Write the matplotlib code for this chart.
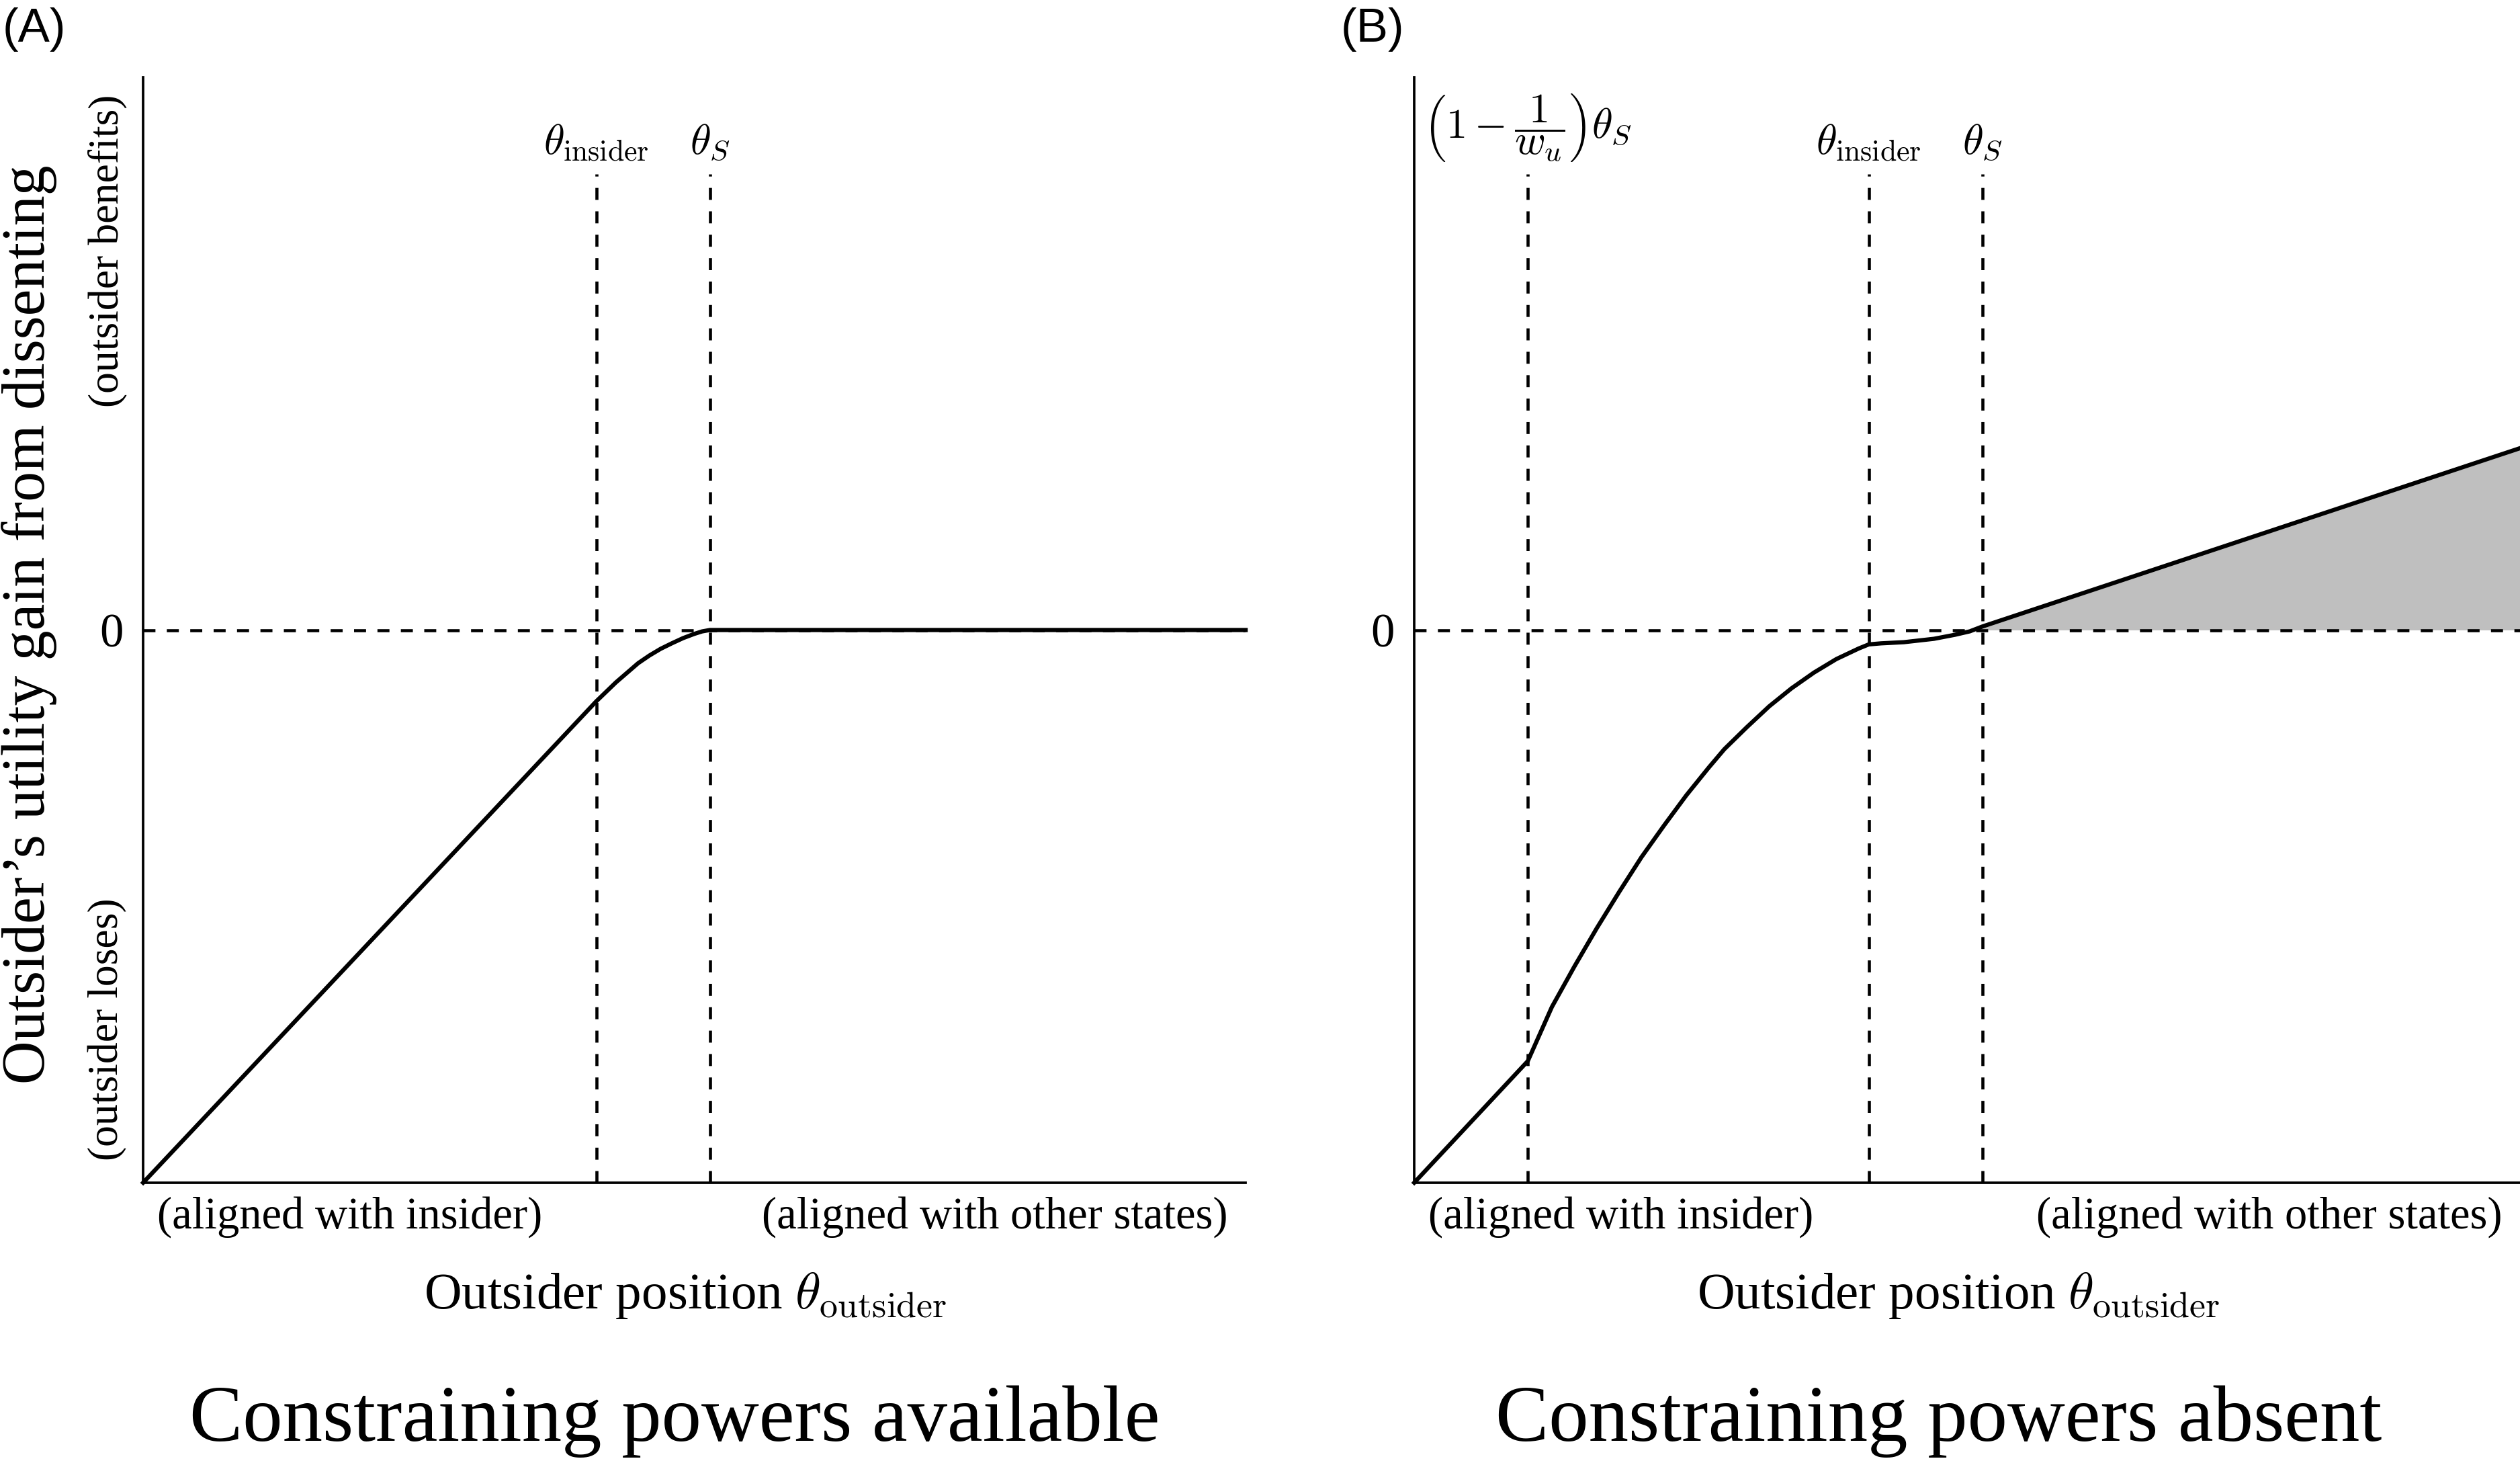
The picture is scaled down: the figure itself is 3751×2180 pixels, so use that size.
import matplotlib.pyplot as plt

plt.rcParams['font.family'] = 'Liberation Serif'
plt.rcParams['mathtext.fontset'] = 'cm'

# Panel A: constraining powers available (x = outsider position, y = utility gain)
a_x = [0.0, 0.411, 0.4288, 0.449, 0.4593, 0.4694, 0.4796, 0.4898, 0.4999, 0.507, 0.514, 1.0]
a_y = [-1.0, -0.129, -0.0948, -0.060, -0.046, -0.034, -0.024, -0.0146, -0.0070, -0.0025, 0.0, 0.0]

# Panel B: constraining powers absent
b_x = [0.0, 0.1027, 0.1245, 0.1448, 0.1651, 0.1853, 0.2055, 0.2258, 0.2461, 0.2663,
       0.2805, 0.3007, 0.3210, 0.3412, 0.3615, 0.3817, 0.4020, 0.4111, 0.4222, 0.4428,
       0.470, 0.489, 0.5024, 0.514, 1.0]
b_y = [-1.0, -0.780, -0.682, -0.609, -0.5395, -0.474, -0.411, -0.354, -0.299, -0.249,
       -0.2155, -0.176, -0.1381, -0.1055, -0.0770, -0.0526, -0.0334, -0.0260, -0.0241, -0.022,
       -0.0159, -0.0086, -0.0024, 0.0065, 0.329]

# reference positions (dashed verticals) and their labels
a_marks = [0.411, 0.514]
a_mark_labels = [r'$\theta_{\mathrm{insider}}$', r'$\theta_S$']
b_marks = [0.1027, 0.411, 0.514]
b_mark_labels = [r'$\left(1-\dfrac{1}{w_u}\right)\theta_S$',
                 r'$\theta_{\mathrm{insider}}$', r'$\theta_S$']

titles = ['Constraining powers available', 'Constraining powers absent']
title_x = [0.482, 0.4745]
panel_tags = ['(A)', '(B)']

fig = plt.figure(figsize=(3751 / 300, 2180 / 300), dpi=300)
ax_a = fig.add_axes([0.0568, 0.1927, 0.4375, 0.7545])
ax_b = fig.add_axes([0.5612, 0.1927, 0.4388, 0.7545])

dash = (0, (3.9, 3.7))

panels = [
    (ax_a, a_x, a_y, a_marks, a_mark_labels, titles[0], title_x[0]),
    (ax_b, b_x, b_y, b_marks, b_mark_labels, titles[1], title_x[1]),
]

for ax, xs, ys, marks, mark_labels, title, tx in panels:
    ax.set_xlim(0, 1)
    ax.set_ylim(-1, 1)
    for side in ['top', 'right']:
        ax.spines[side].set_visible(False)
    for side in ['left', 'bottom']:
        ax.spines[side].set_linewidth(0.9)

    # zero line and reference verticals
    ax.plot([0, 1], [0, 0], color='black', lw=1.1, linestyle=dash, zorder=2)
    for m, lab in zip(marks, mark_labels):
        ax.plot([m, m], [-1, 0.825], color='black', lw=1.1, linestyle=dash, zorder=2)
        ax.text(m, 0.845, lab, ha='center', va='bottom', fontsize=15)

    ax.plot(xs, ys, color='black', lw=1.5, zorder=3, clip_on=False,
            solid_joinstyle='round')

    ax.set_xticks([])
    ax.set_yticks([0])
    ax.set_yticklabels(['0'], fontsize=17)
    ax.tick_params(axis='y', length=0, pad=7)

    ax.text(0.013, -0.031, '(aligned with insider)', transform=ax.transAxes,
            ha='left', va='center', fontsize=16)
    ax.text(0.984, -0.031, '(aligned with other states)', transform=ax.transAxes,
            ha='right', va='center', fontsize=16)
    ax.text(0.492, -0.102, r'Outsider position $\theta_{\mathrm{outsider}}$',
            transform=ax.transAxes, ha='center', va='center', fontsize=18.5)
    ax.text(tx, -0.216, title, transform=ax.transAxes, ha='center', va='center',
            fontsize=28.5)

# shaded region where dissent pays off
ax_b.fill_between(b_x, b_y, 0, where=[y >= 0 for y in b_y], interpolate=True,
                  color='#bfbfbf', lw=0, zorder=1)

# y axis description on the left panel
ax_a.text(-0.1036, 0.505, 'Outsider\u2019s utility gain from dissenting',
          transform=ax_a.transAxes, rotation=90, ha='center', va='center', fontsize=21.5)
ax_a.text(-0.032, 0.843, '(outsider benefits)', transform=ax_a.transAxes,
          rotation=90, ha='center', va='center', fontsize=15.3)
ax_a.text(-0.032, 0.139, '(outsider loses)', transform=ax_a.transAxes,
          rotation=90, ha='center', va='center', fontsize=15.3)

fig.text(0.001, 0.995, panel_tags[0], ha='left', va='top', fontsize=17,
         family='Liberation Sans')
fig.text(0.532, 0.995, panel_tags[1], ha='left', va='top', fontsize=17,
         family='Liberation Sans')

fig.savefig('out.png', dpi=300)
